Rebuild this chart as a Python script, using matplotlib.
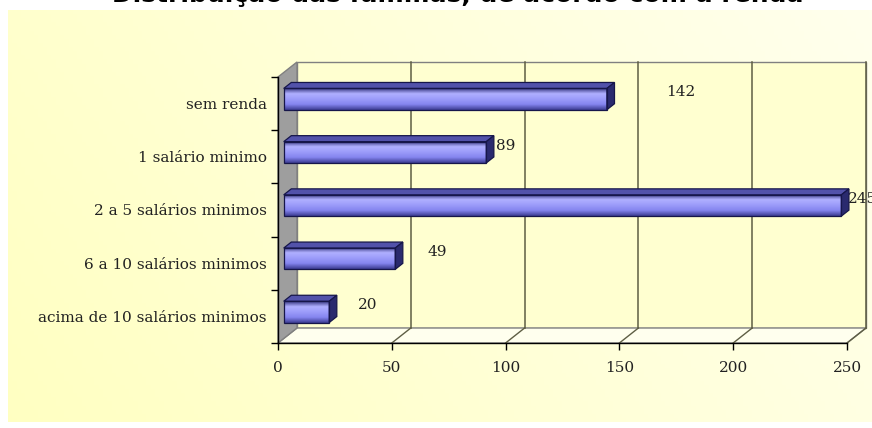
import numpy as np
import matplotlib
matplotlib.use("Agg")
import matplotlib.pyplot as plt
from matplotlib.colors import LinearSegmentedColormap
from matplotlib.patches import Polygon, Rectangle

# families by income bracket (bottom to top as drawn)
categories = ["acima de 10 salários minimos", "6 a 10 salários minimos",
              "2 a 5 salários minimos", "1 salário minimo", "sem renda"]
families = [20, 49, 245, 89, 142]
xticks = [0, 50, 100, 150, 200, 250]
title = "Distribuição das famílias, de acordo com a renda"

# label offsets to the right of each bar end (value units)
label_gap = [15, 16.5, 5.5, 7, 28.5]

W, H = 872, 428
SERIF = "DejaVu Serif"


def box(x0, y0, x1, y1):
    """pixel box with top-left origin -> figure fraction rect"""
    return [x0 / W, 1 - y1 / H, (x1 - x0) / W, (y1 - y0) / H]


fig = plt.figure(figsize=(W / 100, H / 100), dpi=100)
fig.patch.set_facecolor("white")

# pale yellow chart area, slightly whiter toward the right
bg = fig.add_axes(box(8, 10, 872, 422))
gx = np.linspace(0, 1, 200)
gy = np.linspace(0, 1, 100)[:, None]
t = np.clip(0.75 * gx[None, :] + 0.25 * (1 - gy), 0, 1)
c0 = np.array([1.0, 1.0, 0.76])
c1 = np.array([1.0, 1.0, 0.93])
bg.imshow(c0 + (c1 - c0) * t[..., None], aspect="auto", extent=[0, 1, 0, 1])
bg.axis("off")

# title sits mostly above the top edge of the page
fig.text(458 / W, 1 - 2 / H, title, ha="center", va="baseline",
         fontsize=18, fontweight="bold", family="DejaVu Sans", color="black")

# front plane of the 3-D box
ax = fig.add_axes(box(278, 77, 847, 343))
ax.set_xlim(0, 250)
ax.set_ylim(-0.5, 4.5)
ax.patch.set_visible(False)

# depth offset of the back wall, converted from pixels to data units
dx = 19 / 569 * 250
dy = 15 / 266 * 5
ylo, yhi = -0.5, 4.5
xmax = xticks[-1]

wall_edge = "#808080"
back = Rectangle((dx, ylo + dy), xmax, yhi - ylo, facecolor="#FFFFD0",
                 edgecolor=wall_edge, lw=1, zorder=0, clip_on=False)
ax.add_patch(back)
floor = Polygon([(0, ylo), (xmax, ylo), (xmax + dx, ylo + dy), (dx, ylo + dy)],
                closed=True, facecolor="#FFFFEE", edgecolor=wall_edge, lw=1,
                zorder=0.5, clip_on=False)
ax.add_patch(floor)
side = Polygon([(0, ylo), (0, yhi), (dx, yhi + dy), (dx, ylo + dy)], closed=True,
               facecolor="#9E9E9E", edgecolor=wall_edge, lw=1, zorder=0.6,
               clip_on=False)
ax.add_patch(side)

# gridlines on the back wall and the floor
grid_c = "#5E5E44"
for v in xticks[1:]:
    ax.plot([v + dx, v + dx], [ylo + dy, yhi + dy], color=grid_c, lw=1.1,
            zorder=1, clip_on=False)
    ax.plot([v, v + dx], [ylo, ylo + dy], color=grid_c, lw=1, zorder=1,
            clip_on=False)

# 3-D bars
face_cmap = LinearSegmentedColormap.from_list(
    "face", ["#34347E", "#B0B0FF", "#9C9CFA", "#8484EE", "#3C3C92"])
grad = np.linspace(0, 1, 64)[:, None]
f0, f1 = 0.3, 0.7
half = 0.2
edge = "#16164A"
for i, v in enumerate(families):
    ox0, oy0 = f0 * dx, f0 * dy
    ox1, oy1 = f1 * dx, f1 * dy
    yb, yt = i - half + oy0, i + half + oy0
    ax.imshow(grad, cmap=face_cmap, aspect="auto", origin="upper",
              extent=[ox0, v + ox0, yb, yt], zorder=3, clip_on=False)
    ax.add_patch(Rectangle((ox0, yb), v, yt - yb, fill=False, edgecolor=edge,
                           lw=0.9, zorder=3.2, clip_on=False))
    top = Polygon([(ox0, yt), (v + ox0, yt), (v + ox1, yt + oy1 - oy0),
                   (ox1, yt + oy1 - oy0)], closed=True, facecolor="#5252AA",
                  edgecolor=edge, lw=0.9, zorder=3.1, clip_on=False)
    ax.add_patch(top)
    rside = Polygon([(v + ox0, yb), (v + ox1, yb + oy1 - oy0),
                     (v + ox1, yt + oy1 - oy0), (v + ox0, yt)], closed=True,
                    facecolor="#2A2A6E", edgecolor=edge, lw=0.9, zorder=3.1,
                    clip_on=False)
    ax.add_patch(rside)
    ax.text(v + label_gap[i], i + 0.21, str(v), ha="left", va="center",
            fontsize=11, family=SERIF, color="#222222", clip_on=False)

ax.set_xlim(0, 250)
ax.set_ylim(-0.5, 4.5)

for s in ["top", "right"]:
    ax.spines[s].set_visible(False)
for s in ["left", "bottom"]:
    ax.spines[s].set_color("black")
    ax.spines[s].set_linewidth(1)
    ax.spines[s].set_zorder(2)

ax.set_xticks(xticks)
ax.set_xticklabels([str(v) for v in xticks], family=SERIF, fontsize=11,
                   color="#222222")
ax.tick_params(axis="x", direction="out", length=5, width=1, pad=8)

ax.set_yticks(np.arange(-0.5, 5, 1))
ax.set_yticklabels([])
ax.tick_params(axis="y", which="major", direction="out", length=5, width=1)
ax.set_yticks(range(len(categories)), minor=True)
ax.set_yticklabels(categories, minor=True, family=SERIF, fontsize=11,
                   color="#222222")
ax.tick_params(axis="y", which="minor", length=0, pad=8)

fig.savefig("out.png", dpi=100, facecolor="white")
